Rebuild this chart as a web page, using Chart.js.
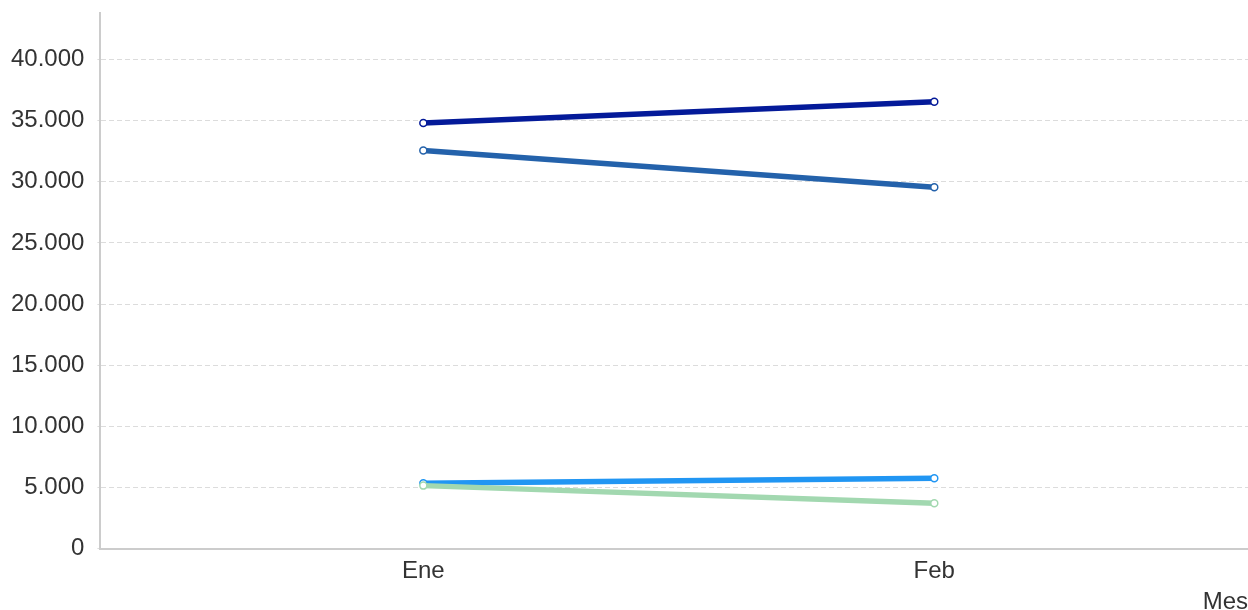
<!DOCTYPE html>
<html>
<head>
<meta charset="utf-8">
<script src="https://cdn.jsdelivr.net/npm/chart.js@4/dist/chart.umd.min.js"></script>
<style>
  html, body { margin: 0; padding: 0; background: #fff; overflow: hidden; }
  canvas { display: block; }
</style>
</head>
<body>
<canvas id="chart" width="1248" height="610" style="width:1248px;height:610px"></canvas>
<script>
// months on the x axis
const months = ['Ene', 'Feb'];

// values per series
const serie1 = [34800, 36550];
const serie2 = [32550, 29550];
const serie3 = [5350, 5750];
const serie4 = [5150, 3700];

const colours = ['#041a99', '#2462ab', '#2196f3', '#a2d8b0'];
const yTicks = [0, 5000, 10000, 15000, 20000, 25000, 30000, 35000, 40000];

// 40000 -> "40.000"
function formatNum(n){
  return String(n).replace(/\B(?=(\d{3})+(?!\d))/g, '.');
}

function makeSet(label, values, colour){
  return {
    label: label,
    data: values.map((v, i) => ({ x: i, y: v })),
    borderColor: colour,
    backgroundColor: '#fff',
    borderWidth: 5.5,
    pointRadius: 3.5,
    pointBorderWidth: 1.5,
    pointBackgroundColor: '#fff',
    pointBorderColor: colour,
    tension: 0
  };
}

// no extra room for half labels at the ends of the axes
function noEdgePadding(scale){
  scale.paddingTop = 0;
  scale.paddingBottom = 0;
  scale.paddingLeft = 0;
  scale.paddingRight = 0;
}

const font = { family: '"Liberation Sans", Arial, sans-serif', size: 24, lineHeight: 1.1 };

new Chart(document.getElementById('chart'), {
  type: 'line',
  data: {
    datasets: [
      makeSet('Serie 1', serie1, colours[0]),
      makeSet('Serie 2', serie2, colours[1]),
      makeSet('Serie 4', serie4, colours[3]),
      makeSet('Serie 3', serie3, colours[2])
    ]
  },
  options: {
    responsive: false,
    animation: false,
    layout: { autoPadding: false, padding: { left: -2, top: 13, right: 0, bottom: -4 } },
    plugins: { legend: { display: false }, tooltip: { enabled: false } },
    scales: {
      x: {
        type: 'linear',
        min: -0.632,
        max: 1.614,
        afterBuildTicks: axis => { axis.ticks = months.map((m, i) => ({ value: i })); },
        afterFit: noEdgePadding,
        ticks: {
          color: '#333',
          font: font,
          padding: 10,
          callback: v => months[v]
        },
        grid: { display: false, drawTicks: false },
        border: { color: '#ccc', width: 2 },
        title: {
          display: true,
          text: 'Mes',
          align: 'end',
          color: '#333',
          font: Object.assign({}, font, { lineHeight: 1.0 }),
          padding: { top: -5, bottom: 0 }
        }
      },
      y: {
        min: 0,
        max: 43800,
        afterBuildTicks: axis => { axis.ticks = yTicks.map(v => ({ value: v })); },
        afterFit: noEdgePadding,
        ticks: {
          color: '#333',
          font: font,
          padding: 13,
          callback: v => formatNum(v)
        },
        grid: {
          color: '#dcdcdc',
          lineWidth: 1,
          tickLength: 3,
          drawTicks: true
        },
        border: { color: '#ccc', width: 2, dash: [5, 3] }
      }
    }
  }
});
</script>
</body>
</html>
